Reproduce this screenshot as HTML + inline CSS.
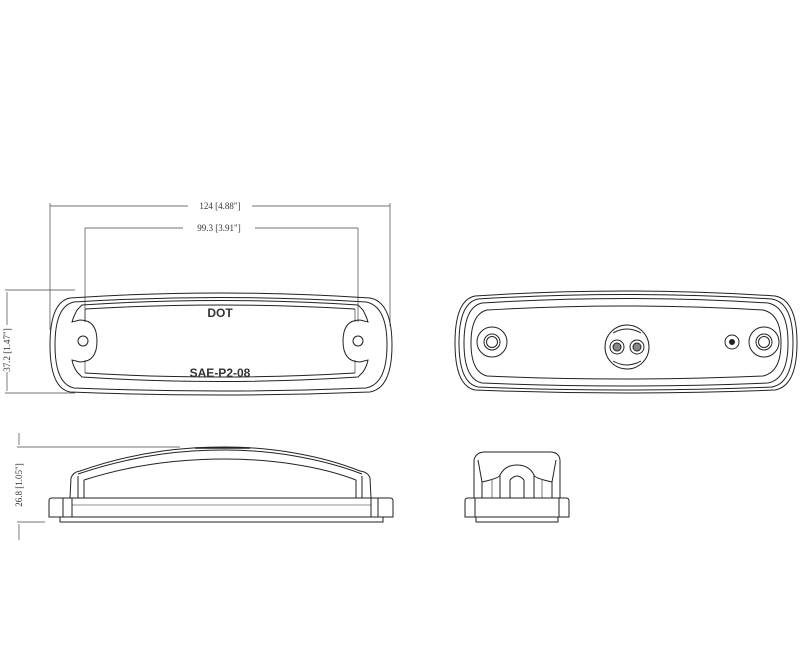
<!DOCTYPE html>
<html><head><meta charset="utf-8"><style>
html,body{margin:0;padding:0;background:#fff;}
svg{display:block;}
text{font-family:"Liberation Serif",serif;font-size:9px;fill:#333;stroke:none;}
.s{font-family:"Liberation Sans",sans-serif;font-size:12px;fill:#333;font-weight:bold;}
</style></head><body>
<svg width="800" height="667" viewBox="0 0 800 667" fill="none" stroke="#222" stroke-width="1">
<g stroke="#444" stroke-width="0.7">
<line x1="50" y1="206" x2="188" y2="206"/><line x1="252" y1="206" x2="390" y2="206"/>
<line x1="50" y1="203" x2="50" y2="330"/><line x1="390" y1="203" x2="390" y2="326"/>
<line x1="85" y1="228" x2="183" y2="228"/><line x1="255" y1="228" x2="358" y2="228"/>
<line x1="85" y1="228" x2="85" y2="322"/><line x1="358" y1="228" x2="358" y2="322"/>
<line x1="5" y1="290" x2="75" y2="290"/><line x1="5" y1="393" x2="75" y2="393"/>
<line x1="7" y1="292" x2="7" y2="325"/><line x1="7" y1="372" x2="7" y2="391"/>
<line x1="17" y1="447" x2="180" y2="447"/><line x1="17" y1="522" x2="45" y2="522"/>
<line x1="19" y1="433" x2="19" y2="445"/><line x1="19" y1="524" x2="19" y2="540"/>
</g>
<text x="220" y="209" text-anchor="middle">124 [4.88"]</text>
<text x="219" y="231" text-anchor="middle">99.3 [3.91"]</text>
<text transform="translate(10,350) rotate(-90)" text-anchor="middle">37.2 [1.47"]</text>
<text transform="translate(22,485) rotate(-90)" text-anchor="middle">26.8 [1.05"]</text>

<path d="M70,298 Q220,288 370,298 Q392,302 392,345 Q392,388 370,392 Q220,398 70,392 Q50,388 50,345 Q50,302 70,298 Z"/>
<path d="M74,302 Q220,293 366,302 Q387,306 387,345 Q387,384 366,388 Q220,394 74,388 Q55,384 55,345 Q55,306 74,302 Z"/>
<path d="M82,305 Q220,296 358,305 L363,310 Q367,318 368,322 L360,320 Q343,320 343,341 Q343,362 360,362 L368,360 Q367,366 363,372 L358,377 Q220,386 82,377 L77,372 Q73,366 72,360 L80,362 Q97,362 97,341 Q97,320 80,320 L72,322 Q73,318 77,310 Z"/>
<path d="M85,309 Q220,301 355,309" /><path d="M85,373 Q220,381 355,373"/>
<path d="M85,309 L85,322 M85,360 L85,373 M355,309 L355,322 M355,360 L355,373" stroke-width="0.6"/>
<circle cx="83" cy="341" r="5"/><circle cx="358" cy="341" r="5"/>
<text class="s" x="220" y="317" text-anchor="middle">DOT</text>
<text class="s" x="220" y="377" text-anchor="middle">SAE-P2-08</text>

<path d="M475,296 Q625,286 775,296 Q797,300 797,343 Q797,386 775,390 Q625,396 475,390 Q455,386 455,343 Q455,300 475,296 Z"/>
<path d="M478,299 Q625,290 772,299 Q793,303 793,343 Q793,383 772,387 Q625,393 478,387 Q459,383 459,343 Q459,303 478,299 Z"/>
<path d="M482,303 Q625,294 768,303 Q788,307 788,343 Q788,379 768,383 Q625,389 482,383 Q464,379 464,343 Q464,307 482,303 Z"/>
<path d="M487,310 Q625,302 763,310 Q781,314 781,343 Q781,372 763,376 Q625,382 487,376 Q471,372 471,343 Q471,314 487,310 Z"/>
<circle cx="492" cy="342" r="15"/><circle cx="492" cy="342" r="8"/><circle cx="492" cy="342" r="5.5"/>
<circle cx="764" cy="342" r="15"/><circle cx="764" cy="342" r="8"/><circle cx="764" cy="342" r="5.5"/>
<circle cx="627" cy="347" r="22"/>
<path d="M613,333 Q627,325 641,333 M613,361 Q627,369 641,361"/>
<circle cx="617" cy="347" r="7"/><circle cx="637" cy="347" r="7"/>
<circle cx="617" cy="347" r="4" fill="#888"/><circle cx="637" cy="347" r="4" fill="#888"/>
<circle cx="732" cy="342" r="7"/><circle cx="732" cy="342" r="2.5" fill="#222"/>

<path d="M49,501 Q49,498 52,498 L390,498 Q393,498 393,501 L393,517 L49,517 Z"/>
<line x1="63" y1="498" x2="63" y2="517"/><line x1="72" y1="498" x2="72" y2="517"/>
<line x1="378" y1="498" x2="378" y2="517"/><line x1="371" y1="498" x2="371" y2="517"/>
<line x1="72" y1="505" x2="371" y2="505" stroke-width="0.6"/>
<path d="M60,517 L60,522 L383,522 L383,517"/>
<path d="M70,498 L71,478 Q73,472 80,471 C140,450 190,447 225,447 C270,447 320,455 360,471 Q368,472 370,478 L371,498"/>
<path d="M78,474 C140,453 190,450 225,450 C270,450 320,458 362,474"/>
<path d="M84,480 C140,462 190,459 225,459 C270,459 320,466 356,480"/>
<line x1="84" y1="480" x2="84" y2="498"/><line x1="356" y1="480" x2="356" y2="498"/>
<line x1="78" y1="476" x2="78" y2="498"/><line x1="362" y1="476" x2="362" y2="498"/>
<path d="M195,448 L250,448" stroke-width="1.6"/>

<path d="M465,501 Q465,498 468,498 L566,498 Q569,498 569,501 L569,517 L465,517 Z"/>
<line x1="475" y1="498" x2="475" y2="517"/><line x1="559" y1="498" x2="559" y2="517"/>
<path d="M476,517 L476,522 L558,522 L558,517"/>
<path d="M474,498 L474,460 Q476,452 485,452 L550,452 Q559,452 560,460 L560,498"/>
<path d="M478,460 L482,482 L482,498 M556,460 L552,482 L552,498"/>
<path d="M482,482 Q500,478 500,475 Q505,465 517,465 Q529,465 534,475 Q534,478 552,482"/>
<path d="M500,475 L500,498 M534,475 L534,498 M510,480 Q517,472 524,480 M510,480 L510,498 M524,480 L524,498"/>
<path d="M492,480 L492,498 M542,480 L542,498" stroke-width="0.6"/>
</svg>
</body></html>
